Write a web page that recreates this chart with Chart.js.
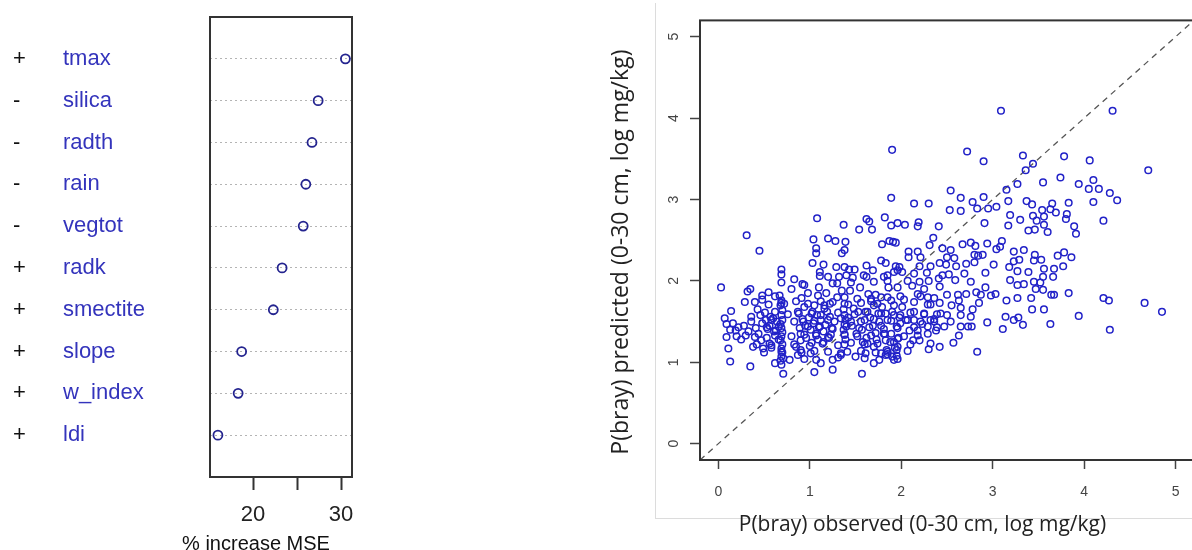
<!DOCTYPE html>
<html>
<head>
<meta charset="utf-8">
<script src="https://cdn.jsdelivr.net/npm/chart.js@4"></script>
<style>
  html, body { margin: 0; padding: 0; background: #fff; overflow: hidden; }
  body { width: 1192px; height: 550px; position: relative; }
  #imp-wrap { position: absolute; left: 0; top: 0; width: 512px; height: 560px; }
  #fit-wrap { position: absolute; left: 600px; top: 0; width: 600px; height: 560px; }
  #fit-border { position: absolute; left: 655px; top: 3px; width: 560px; height: 515px;
                border-left: 1px solid #dcdcdc; border-bottom: 1px solid #dcdcdc; }
</style>
</head>
<body>
<div id="fit-border"></div>
<div id="imp-wrap"><canvas id="chart-imp" width="512" height="560"></canvas></div>
<div id="fit-wrap"><canvas id="chart-fit" width="600" height="560"></canvas></div>
<script>
// ── Variable importance (dot chart) ───────────────────────────
const variables   = ['tmax', 'silica', 'radth', 'rain', 'vegtot', 'radk', 'smectite', 'slope', 'w_index', 'ldi'];
const effectSigns = ['+', '-', '-', '-', '-', '+', '+', '+', '+', '+'];
const mseIncrease = [30.5, 27.4, 26.7, 26.0, 25.7, 23.3, 22.3, 18.7, 18.3, 16.0];
const mseTicks      = [20, 25, 30];
const mseTickLabels = ['20', '', '30'];

// ── Observed vs predicted P(bray) ─────────────────────────────
// each line of observed matches the same line of predicted
const observed = [
  // upper right
  4.31,3.78,4.06,4.70,3.55,3.74,3.94,4.10,4.05,4.16,4.28,4.36,4.10,3.65,3.83,3.54,3.63,3.69,3.81,3.56,3.80,4.21,3.56,3.89,
  3.60,3.91,3.53,3.71,3.78,3.86,3.56,3.67,3.77,3.66,3.52,3.55,3.64,3.67,3.83,4.21,4.27,4.66,4.85,3.56,3.94,3.63,4.28,
  // middle
  1.90,2.72,2.90,3.33,3.44,3.36,3.27,2.54,1.89,2.65,2.14,2.30,2.78,2.90,2.65,2.53,2.83,2.95,3.04,3.17,
  3.15,3.37,3.43,3.19,3.30,3.44,1.82,1.89,1.96,2.04,2.18,2.19,2.41,2.91,3.17,3.39,3.46,3.48,2.35,2.31,
  1.79,1.87,1.94,2.45,2.54,2.67,2.76,2.81,2.94,3.10,3.08,3.04,3.23,3.34,3.46,2.08,2.18,2.08,2.21,2.50,
  2.58,2.80,2.84,2.89,3.23,3.29,2.80,3.01,3.18,3.45,1.83,1.94,1.98,2.20,2.32,2.42,2.49,2.60,2.71,1.92,
  2.01,2.14,2.28,2.45,2.52,2.69,2.92,3.27,3.39,1.81,2.07,2.20,2.30,2.41,2.59,2.76,3.19,3.45,3.55,1.86,
  1.96,2.12,2.25,2.42,2.92,3.03,3.27,3.34,3.47,2.82,2.87,2.98,2.50,2.62,2.71,2.18,2.29,1.99,1.89,3.15,
  3.27,3.42,2.42,2.32,2.65,2.85,3.43,2.78,2.14,2.25,2.43,2.65,2.76,3.14,3.23,3.28,3.33,2.94,2.47,2.54,
  2.65,2.73,2.77,3.11,2.38,2.29,2.63,2.57,2.42,2.30,2.20,2.13,2.83,1.95,1.84,1.95,1.79,1.85,1.81,1.89,
  1.99,2.05,2.09,1.96,1.83,2.14,2.18,2.23,1.92,2.01,2.32,2.36,2.39,2.50,2.55,2.63,1.78,1.92,3.09,
  // left
  1.08,1.37,1.62,1.65,1.54,1.68,0.31,0.45,1.04,1.20,1.28,1.39,1.07,1.07,1.35,1.38,1.91,1.03,1.15,0.69,
  0.69,0.69,1.11,1.29,1.38,1.43,1.49,1.62,1.69,1.78,1.96,1.11,1.32,1.40,1.47,1.62,1.85,0.03,0.35,0.32,
  0.48,0.55,0.48,0.29,0.40,0.14,0.43,0.36,0.07,0.09,0.22,0.19,0.09,0.11,0.13,0.35,0.30,0.40,0.47,0.38,
  0.49,0.58,0.52,0.60,0.54,0.63,0.67,0.69,0.72,
  0.68,0.70,0.69,0.70,0.68,0.69,0.70,0.69,0.68,0.70,0.69,0.70,0.69,0.68,0.69,
  0.62,0.71,0.78,0.85,0.90,0.87,0.90,1.01,1.07,1.12,1.05,1.25,1.57,
  0.88,0.93,0.95,0.99,1.01,1.03,1.04,1.07,1.08,1.11,1.12,1.15,1.16,1.17,1.21,1.22,1.24,1.27,0.90,0.96,1.05,1.12,1.15,1.00,0.94,1.09,1.19,1.23,
  1.38,1.37,1.38,1.39,1.38,1.37,1.38,1.39,1.38,
  1.42,1.46,1.48,1.51,1.52,1.56,1.57,1.61,1.62,1.64,1.66,1.69,1.70,1.72,1.75,1.76,1.78,1.44,1.58,1.67,1.73,1.53,
  1.83,1.90,1.95,1.98,1.82,1.88,1.93,1.85,1.97,
  1.70,1.76,1.83,1.90,1.96,
  1.25,1.34,1.41,1.50,1.61,1.70,1.63,
  0.28,0.33,0.36,0.41,0.44,0.48,0.53,0.56,0.61,0.64,0.66,0.42,0.50,0.58,0.62,0.57,0.46,0.25,0.20,0.16,0.13,
  0.80,0.92,0.98,1.10,1.18,1.25,0.85,1.30,1.45,1.55,1.22,1.35,
  // dense band
  0.62,0.91,1.09,1.38,1.67,1.72,1.85,2.03,2.21,2.36,
  0.55,0.69,0.98,1.16,1.25,1.42,1.56,1.74,1.92,2.14,2.29,
  0.51,0.76,0.87,1.02,1.12,1.31,1.49,1.63,1.78,1.99,2.10,2.25,2.39,
  0.58,0.83,0.92,1.05,1.20,1.34,1.45,1.60,1.70,1.89,2.07,2.21,2.36,
  0.53,0.66,0.89,0.98,1.10,1.25,1.40,1.54,1.65,1.78,1.96,2.14,2.29,
  0.62,0.80,0.94,1.07,1.20,1.38,1.52,1.67,1.81,2.03,2.18,
  0.56,0.83,1.02,1.14,1.31,1.45,1.60,1.74,1.92,2.10,2.32,
  0.69,0.91,1.05,1.20,1.34,1.56,1.72,1.85,2.07,
  0.71,0.94,1.31,1.60,1.96,
  0.83,0.94,1.20,1.30,1.59,1.70,1.85
];
const predicted = [
  // upper right
  4.09,3.53,3.48,3.36,3.21,3.27,3.19,3.24,3.13,3.13,3.08,2.99,2.97,2.95,2.96,2.87,2.88,2.84,2.82,2.79,2.76,2.74,2.69,2.67,
  2.60,2.58,2.26,2.31,2.35,2.29,2.15,2.15,2.18,2.05,1.98,1.89,1.83,1.83,1.85,1.79,1.76,1.73,1.62,1.65,1.57,1.47,1.40,
  // middle
  3.61,3.59,3.47,3.54,3.44,3.36,3.19,3.11,3.02,3.02,2.95,2.95,2.97,3.03,2.86,2.87,2.89,2.89,2.91,2.98,
  3.12,2.98,2.94,2.81,2.75,2.80,2.78,2.68,2.71,2.69,2.67,2.72,2.67,2.71,2.68,2.62,2.63,2.74,2.53,2.44,
  2.45,2.49,2.47,2.40,2.38,2.45,2.47,2.43,2.46,2.49,2.42,2.39,2.36,2.38,2.32,2.36,2.36,2.29,2.29,2.29,
  2.28,2.32,2.31,2.32,2.24,2.26,2.23,2.20,2.17,2.25,2.22,2.18,2.17,2.18,2.18,2.22,2.20,2.18,2.21,2.11,
  2.11,2.09,2.10,2.07,2.08,2.09,2.10,2.12,2.11,2.05,2.00,1.99,2.00,2.03,2.01,1.99,2.01,1.99,2.05,1.92,
  1.92,1.94,1.90,1.93,1.92,1.84,1.95,1.96,1.90,1.86,1.83,1.82,1.83,1.83,1.84,1.84,1.80,1.81,1.76,1.76,
  1.79,1.79,1.73,1.71,1.67,1.73,1.65,1.65,1.62,1.59,1.60,1.58,1.56,1.56,1.52,1.55,1.46,1.49,1.44,1.50,
  1.44,1.44,1.44,1.41,1.39,1.35,1.33,1.24,1.19,1.16,1.27,1.27,1.13,1.08,1.15,1.15,1.68,1.52,1.41,1.35,
  1.48,1.52,1.39,1.29,1.27,1.52,1.39,1.47,1.58,1.68,1.52,1.50,1.43,1.58,1.70,1.76,1.11,1.03,4.09,
  // left
  2.77,2.69,2.76,2.73,2.63,2.63,2.56,2.37,2.51,2.52,2.49,2.48,2.40,2.34,2.34,2.38,2.48,2.22,2.20,2.14,
  2.08,1.98,2.11,2.17,2.17,2.14,2.14,2.19,2.13,2.25,2.13,2.06,2.05,2.07,2.04,2.05,2.00,1.92,1.90,1.87,
  1.82,1.86,1.77,1.74,1.74,1.63,1.65,1.56,1.54,1.47,1.43,1.39,1.31,1.17,1.01,0.95,1.33,1.31,1.27,1.19,
  1.17,1.21,1.52,1.54,1.41,1.39,1.82,1.76,1.72,
  1.70,1.64,1.58,1.52,1.47,1.42,1.37,1.32,1.27,1.22,1.17,1.12,1.07,1.02,0.97,
  0.99,0.86,1.03,1.19,1.15,1.09,1.27,1.11,1.03,0.99,0.88,0.91,0.86,
  1.60,1.50,1.45,1.55,1.40,1.62,1.48,1.35,1.58,1.44,1.52,1.38,1.66,1.46,1.30,1.56,1.42,1.50,1.35,1.30,1.70,1.75,1.25,1.20,1.68,1.28,1.62,1.34,
  1.72,1.65,1.58,1.52,1.46,1.40,1.34,1.28,1.22,
  1.55,1.45,1.66,1.35,1.78,1.50,1.40,1.62,1.30,1.84,1.55,1.45,1.70,1.36,1.60,1.50,1.80,1.88,1.25,1.75,1.28,1.62,
  1.60,1.62,1.44,1.55,1.35,1.25,1.18,1.10,1.30,
  0.99,1.03,1.09,1.07,1.19,
  1.03,1.09,1.13,1.07,1.11,1.19,1.23,
  1.45,1.38,1.50,1.42,1.35,1.48,1.30,1.45,1.38,1.50,1.28,1.22,1.12,1.18,1.62,1.56,1.58,1.28,1.32,1.48,1.40,
  1.90,1.96,1.85,1.92,1.85,1.97,1.75,1.80,1.98,1.92,1.72,1.88,
  // dense band
  1.81,1.79,1.82,1.80,1.78,1.83,1.80,1.77,1.81,1.79,
  1.71,1.73,1.72,1.70,1.74,1.71,1.73,1.72,1.70,1.74,1.71,
  1.61,1.59,1.62,1.60,1.58,1.61,1.59,1.62,1.60,1.58,1.61,1.60,1.59,
  1.52,1.50,1.53,1.51,1.52,1.54,1.50,1.52,1.53,1.51,1.52,1.50,1.53,
  1.43,1.44,1.42,1.44,1.43,1.41,1.44,1.42,1.43,1.45,1.42,1.43,1.44,
  1.33,1.32,1.34,1.33,1.31,1.34,1.32,1.33,1.35,1.32,1.33,
  1.23,1.22,1.24,1.23,1.21,1.24,1.22,1.23,1.25,1.22,1.23,
  1.13,1.12,1.14,1.13,1.11,1.14,1.12,1.13,1.14,
  1.05,1.04,1.06,1.05,1.04,
  2.02,1.95,2.05,1.97,2.07,1.99,2.07
];
const axisRange = [-0.2, 5.2];
const fitTicks  = [0, 1, 2, 3, 4, 5];

Chart.defaults.font.family = "'Liberation Sans', Arial, sans-serif";
Chart.defaults.color = '#222';

// box around the plotting region, like R's box()
const framePlugin = {
  id: 'frame',
  afterDatasetsDraw(chart, args, opts) {
    const { ctx, chartArea: a } = chart;
    ctx.save();
    ctx.strokeStyle = opts.color || '#333';
    ctx.lineWidth = opts.width || 2;
    ctx.strokeRect(a.left, a.top, a.right - a.left, a.bottom - a.top);
    ctx.restore();
  }
};

const rowTicks = ax => { ax.ticks = variables.map((_, i) => ({ value: i + 1 })); };

new Chart(document.getElementById('chart-imp'), {
  type: 'scatter',
  data: {
    datasets: [{
      data: mseIncrease.map((v, i) => ({ x: v, y: i + 1 })),
      pointRadius: 4.5,
      pointHoverRadius: 4.5,
      borderColor: '#24248f',
      borderWidth: 1.8,
      backgroundColor: 'transparent'
    }]
  },
  options: {
    responsive: false,
    animation: false,
    layout: { padding: { left: 13, top: 17, right: 13, bottom: 0 } },
    plugins: {
      legend: { display: false },
      tooltip: { enabled: false },
      frame: { color: '#333', width: 2 },
      title: { display: true, position: 'bottom', text: '% increase MSE', font: { size: 20, weight: 'normal' }, color: '#111', padding: { top: 0, bottom: 4 } }
    },
    scales: {
      sign: {
        axis: 'y', type: 'linear', position: 'left', weight: 1,
        min: 0, max: 11, reverse: true,
        afterBuildTicks: rowTicks,
        afterFit: ax => { ax.width = 50; },
        grid: { display: false }, border: { display: false },
        ticks: { callback: v => effectSigns[v - 1], crossAlign: 'far', font: { size: 22 }, color: '#111', padding: 0 }
      },
      y: {
        type: 'linear', position: 'left', weight: 0,
        min: 0, max: 11, reverse: true,
        afterBuildTicks: rowTicks,
        afterFit: ax => { ax.width = 147; },
        grid: { color: '#b4b4b4', lineWidth: 1, drawTicks: false },
        border: { display: false, dash: [2, 3] },
        ticks: { callback: v => variables[v - 1], crossAlign: 'far', font: { size: 22 }, color: '#3434bc', padding: 0 }
      },
      // empty spacer on the right so the bottom title sits where R put it
      spacer: {
        axis: 'y', type: 'linear', position: 'right', min: 0, max: 11,
        afterFit: ax => { ax.width = 147; },
        ticks: { display: false }, grid: { display: false }, border: { display: false }
      },
      x: {
        type: 'linear', min: 15.1, max: 31.25,
        afterBuildTicks: ax => { ax.ticks = mseTicks.map(v => ({ value: v })); },
        afterFit: ax => { ax.height = 55; },
        grid: { drawOnChartArea: false, drawTicks: true, tickLength: 13, tickColor: '#333', tickWidth: 2 },
        border: { display: false },
        ticks: { callback: v => mseTickLabels[mseTicks.indexOf(v)], font: { size: 22 }, color: '#222', padding: 12, maxRotation: 0 }
      }
    }
  },
  plugins: [framePlugin]
});

new Chart(document.getElementById('chart-fit'), {
  type: 'scatter',
  data: {
    datasets: [{
      data: observed.map((v, i) => ({ x: v, y: predicted[i] })),
      pointRadius: 3.3,
      pointHoverRadius: 3.3,
      borderColor: '#2222c8',
      borderWidth: 1.5,
      backgroundColor: 'transparent'
    }, {
      type: 'line',
      data: axisRange.map(v => ({ x: v, y: v })),
      showLine: true,
      borderColor: '#555',
      borderWidth: 1.3,
      borderDash: [6, 5],
      pointRadius: 0,
      fill: false
    }]
  },
  options: {
    responsive: false,
    animation: false,
    layout: { padding: { left: 0, top: 19, right: 6, bottom: 0 } },
    plugins: { legend: { display: false }, tooltip: { enabled: false }, frame: { color: '#333', width: 2 } },
    scales: {
      x: {
        type: 'linear', min: axisRange[0], max: axisRange[1],
        afterBuildTicks: ax => { ax.ticks = fitTicks.map(v => ({ value: v })); },
        afterFit: ax => { ax.height = 100; },
        grid: { drawOnChartArea: false, tickLength: 9, tickColor: '#444', tickWidth: 1.5 },
        border: { display: false },
        ticks: { font: { size: 14 }, color: '#444', padding: 15, maxRotation: 0 },
        title: { display: true, text: 'P(bray) observed (0-30 cm, log mg/kg)         ', font: { family: "'Open Sans', sans-serif", size: 21 }, color: '#222', padding: { top: 0, bottom: 22 } }
      },
      y: {
        type: 'linear', min: axisRange[0], max: axisRange[1],
        afterBuildTicks: ax => { ax.ticks = fitTicks.map(v => ({ value: v })); },
        afterFit: ax => { ax.width = 100; },
        grid: { drawOnChartArea: false, tickLength: 10, tickColor: '#444', tickWidth: 1.5 },
        border: { display: false },
        ticks: { font: { size: 14 }, color: '#444', padding: 12, minRotation: 90, maxRotation: 90, crossAlign: 'center' },
        title: { display: true, text: 'P(bray) predicted (0-30 cm, log mg/kg)    ', font: { family: "'Open Sans', sans-serif", size: 23 }, color: '#222', padding: { top: 8, bottom: 0 } }
      }
    }
  },
  plugins: [framePlugin]
});
</script>
</body>
</html>
